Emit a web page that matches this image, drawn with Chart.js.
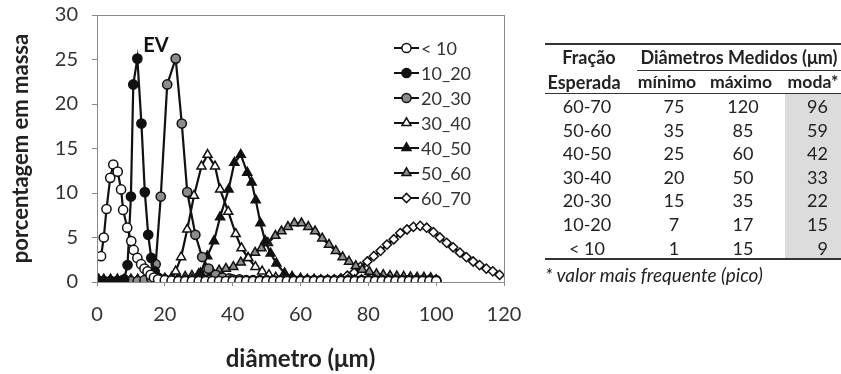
<!DOCTYPE html>
<html><head><meta charset="utf-8">
<script src="https://cdn.jsdelivr.net/npm/chart.js@4.4.0/dist/chart.umd.min.js"></script>
<style>
html,body{margin:0;padding:0;background:#fff;}
#wrap{position:relative;width:841px;height:374px;overflow:hidden;font-family:Lato,"Open Sans",sans-serif;color:#222;}
canvas{position:absolute;left:0;top:0;}
.t{position:absolute;white-space:nowrap;font-size:18px;line-height:20px;height:20px;}
.c{transform:translateX(-50%);}
.r{transform:translateX(-100%);}
.b{font-weight:bold;}
.s{font-size:17.6px;}
.i{font-style:italic;font-size:19px;}
.ln{position:absolute;background:#333;}
.bg{position:absolute;background:#dcdcdc;}
</style></head><body>
<div id="wrap"><canvas id="c" width="841" height="374"></canvas><div id="tbl"></div></div>
<script>
// ---------- chart data ----------
const seriesNames = ['< 10','10_20','20_30','30_40','40_50','50_60','60_70'];

const lt10X = [1.2,2.0,2.8,3.9,4.8,6.1,7.1,7.7,8.9,10.1, 10.8,11.9,13.0,14.0,14.9,15.8,16.8,18.0,
  20,22,24,26,28,30,32,34,36,38, 40,42,44,46,48,50,52,54,56,58, 60,62,64,66,68,70,72,74,76,78, 80,82,84,86,88,90,92,94,96,98, 100];
const lt10Y = [2.9,5.0,8.2,11.7,13.2,12.4,10.4,8.1,6.1,4.6, 3.6,2.7,2.0,1.5,1.2,0.8,0.5,0.3,
  0.2,0.15,0.1,0.1,0.1,0.1,0.1,0.1,0.1,0.1, 0.1,0.1,0.1,0.1,0.1,0.1,0.1,0.1,0.1,0.1, 0.1,0.1,0.1,0.1,0.1,0.1,0.1,0.1,0.1,0.1, 0.1,0.1,0.1,0.1,0.1,0.1,0.1,0.1,0.1,0.1, 0.1];

const s1020X = [0.5,2,4,6,8,9.0,10.0,10.7,11.9,13.1, 14.1,15.1,16.0,17.0,18.0,
  20,22,24,26,28,30,32,34,36,38, 40,42,44,46,48,50,52,54,56,58, 60,62,64,66,68,70,72,74,76,78, 80,82,84,86,88,90,92,94,96,98, 100];
const s1020Y = [0.1,0.1,0.1,0.1,0.3,1.9,9.6,22.2,25.1,17.8, 10.1,5.3,2.7,1.2,0.5,
  0.3,0.2,0.2,0.1,0.1,0.1,0.1,0.1,0.1,0.1, 0.1,0.1,0.1,0.1,0.1,0.1,0.1,0.1,0.1,0.1, 0.1,0.1,0.1,0.1,0.1,0.1,0.1,0.1,0.1,0.1, 0.1,0.1,0.1,0.1,0.1,0.1,0.1,0.1,0.1,0.1, 0.1];

const s2030X = [0.5,2,4,6,8,10,12,14,16,17.3, 18.8,20.7,23.2,25.0,26.6,29.0,31.0,32.9,35.0,37.0, 39.0,
  40,42,44,46,48,50,52,54,56,58, 60,62,64,66,68,70,72,74,76,78, 80,82,84,86,88,90,92,94,96,98, 100];
const s2030Y = [0.1,0.1,0.1,0.1,0.1,0.1,0.1,0.2,0.4,2.0, 9.6,22.2,25.1,17.8,10.1,5.3,2.8,1.5,0.8,0.5, 0.4,
  0.3,0.3,0.2,0.2,0.2,0.2,0.2,0.2,0.2,0.2, 0.2,0.2,0.2,0.2,0.2,0.2,0.2,0.2,0.2,0.2, 0.2,0.2,0.2,0.2,0.2,0.2,0.2,0.2,0.2,0.2, 0.2];

const s3040X = [0.5,2,4,6,8,10,12,14,16,18, 20,22,
  23.2,24.8,26.6,28.6,30.8,32.6,34.8,36.3,38.7,40.9, 42.6,44.6,46.7,48.7,50.7,52.7,54.7,
  56,58,60,62,64,66,68,70,72,74, 76,78,80,82,84,86,88,90,92,94, 96,98,100];
const s3040Y = [0.2,0.2,0.2,0.2,0.2,0.2,0.2,0.2,0.2,0.2, 0.2,0.3,
  1.2,2.8,5.9,9.7,13.0,14.3,13.0,10.4,7.9,5.4, 3.8,2.7,1.7,1.2,0.8,0.5,0.35,
  0.3,0.25,0.25,0.2,0.2,0.2,0.2,0.2,0.2,0.2, 0.2,0.2,0.2,0.2,0.2,0.2,0.2,0.2,0.2,0.2, 0.2,0.2,0.2];

const s4050X = [0.5,2,4,6,8,10,12,14,16,18, 20,22,24,26,28,
  30.5,32.5,34.5,36.3,38.8,40.5,42.4,44.3,45.6,46.8, 48.2,49.6,51.2,52.9,55.3,57.5,
  60,62,64,66,68,70,72,74,76,78, 80,82,84,86,88,90,92,94,96,98, 100];
const s4050Y = [0.1,0.1,0.1,0.1,0.1,0.1,0.1,0.1,0.1,0.1, 0.1,0.1,0.1,0.2,0.3,
  1.0,2.9,4.6,7.3,10.4,13.4,14.3,12.3,11.2,9.2, 6.6,4.6,3.2,2.1,1.0,0.6,
  0.4,0.3,0.3,0.2,0.2,0.2,0.2,0.2,0.2,0.2, 0.2,0.2,0.2,0.2,0.2,0.2,0.2,0.2,0.2,0.2, 0.2];

const s5060X = [0.5,2,4,6,8,10,12,14,16,18, 20,22,24,26,28,
  30,32,34,36,38,40.2,42.4,44.5,46.6,48.5, 50.4,52.6,54.4,56.3,58.2,60.3,62.3,64.3,66.4,68.4,
  70.4,72.4,74.3,76.3,78.2,80.3,82.4,84.4,86.4,88.4, 90.4,92.4,94.4,96.4,98.4];
const s5060Y = [0.3,0.3,0.3,0.3,0.3,0.3,0.3,0.3,0.3,0.4, 0.4,0.5,0.5,0.6,0.7,
  0.9,1.0,1.15,1.3,1.5,1.7,2.2,2.7,3.3,3.8, 4.4,5.2,5.7,6.2,6.6,6.6,6.2,5.7,4.9,4.2,
  3.5,2.8,2.3,1.8,1.4,1.15,0.9,0.8,0.7,0.65, 0.6,0.55,0.5,0.5,0.45];

const s6070X = [0.5,2,4,6,8,10,12,14,16,18, 20,22,24,26,28,30,32,34,36,38, 40,42,44,46,48,50,52,54,56,58, 60,62,64,66,68,
  69.9,71.9,73.8,75.8,77.7,79.7,81.6,83.6,85.5,87.5, 89.4,91.4,93.3,95.3,97.2,99.2,101.1,103.1,105.0,107.0,
  108.9,110.9,112.8,114.8,116.7,118.7];
const s6070Y = [0.1,0.1,0.1,0.1,0.1,0.1,0.1,0.1,0.1,0.1, 0.1,0.1,0.1,0.1,0.1,0.1,0.1,0.1,0.1,0.1, 0.1,0.1,0.1,0.1,0.1,0.1,0.1,0.1,0.1,0.1, 0.1,0.1,0.1,0.15,0.2,
  0.25,0.4,0.7,1.05,1.7,2.3,2.9,3.5,4.2,4.8, 5.5,5.9,6.2,6.3,6.1,5.6,5.0,4.4,3.9,3.3,
  2.8,2.3,1.9,1.5,1.2,0.8];

// ---------- table data ----------
const fracoes = ['60-70','50-60','40-50','30-40','20-30','10-20','< 10'];
const minimos = [75,35,25,20,15,7,1];
const maximos = [120,85,60,50,35,17,15];
const modas   = [96,59,42,33,22,15,9];

// ---------- build chart ----------
const seriesX = [lt10X,s1020X,s2030X,s3040X,s4050X,s5060X,s6070X];
const seriesY = [lt10Y,s1020Y,s2030Y,s3040Y,s4050Y,s5060Y,s6070Y];
const styles = [
  {ps:'circle',   fill:'#ffffff', r:4.6},
  {ps:'circle',   fill:'#111111', r:4.6},
  {ps:'circle',   fill:'#8c8c8c', r:4.6},
  {ps:'triangle', fill:'#ffffff', r:5.2},
  {ps:'triangle', fill:'#111111', r:5.2},
  {ps:'triangle', fill:'#8c8c8c', r:5.2},
  {ps:'rectRot',  fill:'#ffffff', r:4.6}
];
const datasets = seriesNames.map((n,i)=>({
  label:n,
  data: seriesX[i].map((x,k)=>({x:x, y:seriesY[i][k]})),
  borderColor:'#111', borderWidth:2.2, tension:0,
  pointStyle:styles[i].ps, pointRadius:styles[i].r, pointBackgroundColor:styles[i].fill,
  pointBorderColor:'#111', pointBorderWidth:1.5, fill:false
}));

const FONT = 'Lato';
const boxPlugin = {
  id:'boxAndLegend',
  afterDatasetsDraw(chart){
    const ctx = chart.ctx, a = chart.chartArea;
    ctx.save();
    ctx.strokeStyle = '#8a8a8a'; ctx.lineWidth = 1;
    ctx.strokeRect(Math.round(a.left)+0.5, Math.round(a.top)+0.5, Math.round(a.right-a.left), Math.round(a.bottom-a.top));
    // EV label
    ctx.fillStyle = '#111'; ctx.font = 'bold 20px ' + FONT;
    ctx.textAlign = 'center'; ctx.textBaseline = 'middle';
    ctx.fillText('EV', 156, 46);
    // legend
    ctx.font = '18px ' + FONT; ctx.textAlign = 'left';
    chart.data.datasets.forEach((ds,i)=>{
      const y = 48 + 25*i;
      ctx.strokeStyle = '#111'; ctx.lineWidth = 2;
      ctx.beginPath(); ctx.moveTo(394,y); ctx.lineTo(419,y); ctx.stroke();
      ctx.fillStyle = ds.pointBackgroundColor; ctx.strokeStyle = '#111'; ctx.lineWidth = 1.5;
      Chart.helpers.drawPoint(ctx, {pointStyle:ds.pointStyle, radius:ds.pointRadius, rotation:0, borderWidth:1.5}, 406.5, y);
      ctx.fillStyle = '#333';
      ctx.fillText(ds.label, 421, y+1);
    });
    ctx.restore();
  }
};

new Chart(document.getElementById('c'), {
  type:'line',
  data:{datasets},
  options:{
    responsive:false, animation:false,
    layout:{padding:{left:0,top:15,right:337,bottom:0}},
    plugins:{legend:{display:false}, tooltip:{enabled:false}},
    scales:{
      x:{type:'linear', min:0, max:120,
        ticks:{stepSize:20, font:{family:FONT,size:20}, color:'#333', padding:17},
        grid:{display:true, drawOnChartArea:false, drawTicks:true, tickLength:4, color:'#8a8a8a'},
        border:{color:'#8a8a8a'},
        title:{display:true, text:'diâmetro (μm)', font:{family:FONT,size:24,weight:'bold'}, color:'#222', padding:{top:0,bottom:0}},
        afterFit(s){ s.height = 92; s.paddingLeft = 0; s.paddingRight = 0; }
      },
      y:{min:0, max:30,
        ticks:{stepSize:5, font:{family:FONT,size:20}, color:'#333', padding:14},
        grid:{display:true, drawOnChartArea:false, drawTicks:true, tickLength:5, color:'#8a8a8a'},
        border:{color:'#8a8a8a'},
        title:{display:true, text:'porcentagem em massa', font:{family:FONT,size:22,weight:'bold'}, color:'#222', padding:{top:8,bottom:0}},
        afterFit(s){ s.width = 97; s.paddingTop = 0; s.paddingBottom = 0; }
      }
    }
  },
  plugins:[boxPlugin]
});

// ---------- build table ----------
const tbl = document.getElementById('tbl');
function txt(s, x, yc, cls){
  const d = document.createElement('div');
  d.className = 't ' + (cls||'');
  d.textContent = s;
  d.style.left = x + 'px';
  d.style.top = (yc - 10) + 'px';
  tbl.appendChild(d);
}
function box(cls, x, y, w, h){
  const d = document.createElement('div');
  d.className = cls;
  d.style.left = x+'px'; d.style.top = y+'px'; d.style.width = w+'px'; d.style.height = h+'px';
  tbl.appendChild(d);
}
box('bg', 785, 94, 56, 165);
box('ln', 545, 43, 296, 2);
box('ln', 637, 70, 204, 1);
box('ln', 545, 93, 296, 1);
box('ln', 545, 258, 296, 2);
txt('Fração', 589, 57, 'c b');
txt('Diâmetros Medidos (μm)', 739, 57, 'c b');
txt('Esperada', 584, 82, 'c b');
txt('mínimo', 667, 82, 'c b s');
txt('máximo', 741, 82, 'c b s');
txt('moda*', 813, 82, 'c b s');
fracoes.forEach((f,i)=>{
  const yc = 106 + 23.6*i;
  txt(f, 587, yc, 'c');
  txt(String(minimos[i]), 674, yc, 'c');
  txt(String(maximos[i]), 743, yc, 'c');
  txt(String(modas[i]), 828, yc, 'r');
});
txt('* valor mais frequente (pico)', 545, 275, 'i');
</script>
</body></html>
